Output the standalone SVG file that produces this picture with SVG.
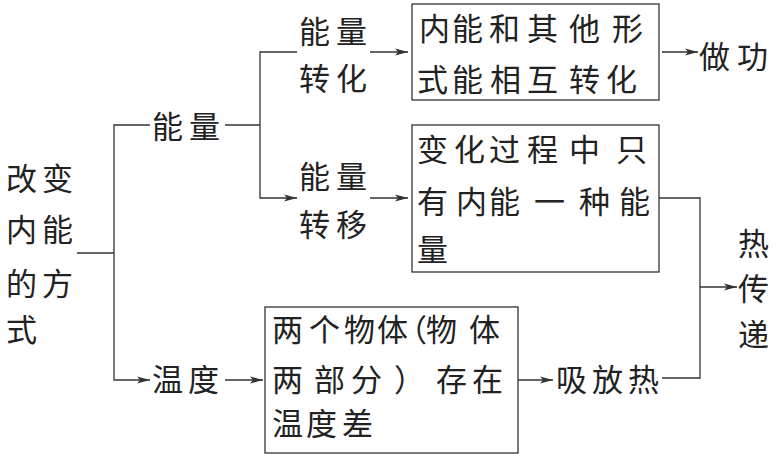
<svg xmlns="http://www.w3.org/2000/svg" width="778" height="454" viewBox="0 0 778 454">
<style>
text{font-family:"Noto Sans CJK SC","Noto Sans CJK JP",sans-serif;font-size:31px;fill:#222}
.box{fill:none;stroke:#333;stroke-width:1.3}
.ln{fill:none;stroke:#333;stroke-width:1.3}
.ar{fill:none;stroke:#333;stroke-width:1.3;marker-end:url(#ah)}
</style>
<defs>
<marker id="ah" markerUnits="userSpaceOnUse" markerWidth="14" markerHeight="8" refX="13" refY="4" orient="auto">
<path d="M0,0.5 L13,4 L0,7.5 L3,4 Z" fill="#333"/>
</marker>
</defs>
<rect width="778" height="454" fill="#fff"/>
<g id="connectors">
<polyline class="ln" points="77,253 114,253"/>
<polyline class="ar" points="150,125 114,125 114,380 150,380"/>
<polyline class="ln" points="225,125 260,125"/>
<polyline class="ar" points="297,52 260,52 260,198 297,198"/>
<line class="ar" x1="370" y1="52" x2="408" y2="52"/>
<line class="ar" x1="370" y1="198" x2="408" y2="198"/>
<line class="ar" x1="662" y1="52" x2="698" y2="52"/>
<polyline class="ln" points="659,198 700,198 700,378 662,378"/>
<line class="ar" x1="700" y1="287" x2="737" y2="287"/>
<line class="ar" x1="225" y1="380" x2="263" y2="380"/>
<line class="ar" x1="518" y1="380" x2="553" y2="380"/>
</g>
<g id="root">
<text x="6 42" y="190">改变</text>
<text x="6 42" y="241">内能</text>
<text x="6 42" y="295">的方</text>
<text x="6" y="341">式</text>
</g>
<g id="energy"><text x="152 189" y="138">能量</text></g>
<g id="energy-conv">
<text x="299 336" y="43">能量</text>
<text x="299 336" y="90">转化</text>
</g>
<g id="energy-trans">
<text x="299 336" y="188">能量</text>
<text x="299 336" y="236">转移</text>
</g>
<g id="box1">
<rect class="box" x="412" y="4" width="247" height="96"/>
<text x="419 452 489 527 569 612" y="40">内能和其他形</text>
<text x="417 452 490 527 569 606" y="91">式能相互转化</text>
</g>
<g id="work"><text x="699 737" y="68">做功</text></g>
<g id="box2">
<rect class="box" x="412" y="125" width="247" height="147"/>
<text x="417 454 489 527 569 616" y="161">变化过程中只</text>
<text x="417 456 489 534 579 619" y="213">有内能一种能</text>
<text x="417" y="261">量</text>
</g>
<g id="heat-transfer">
<text x="738" y="255">热</text>
<text x="738" y="300">传</text>
<text x="738" y="346">递</text>
</g>
<g id="temperature"><text x="152 188" y="391">温度</text></g>
<g id="box3">
<rect class="box" x="265" y="307" width="253" height="146"/>
<text x="272 309 344 377 396 426 469" y="341">两个物体（物体</text>
<text x="272 314 351 394 436 472" y="391">两部分）存在</text>
<text x="272 306 342" y="435">温度差</text>
</g>
<g id="absorb"><text x="556 592 628" y="391">吸放热</text></g>
</svg>
